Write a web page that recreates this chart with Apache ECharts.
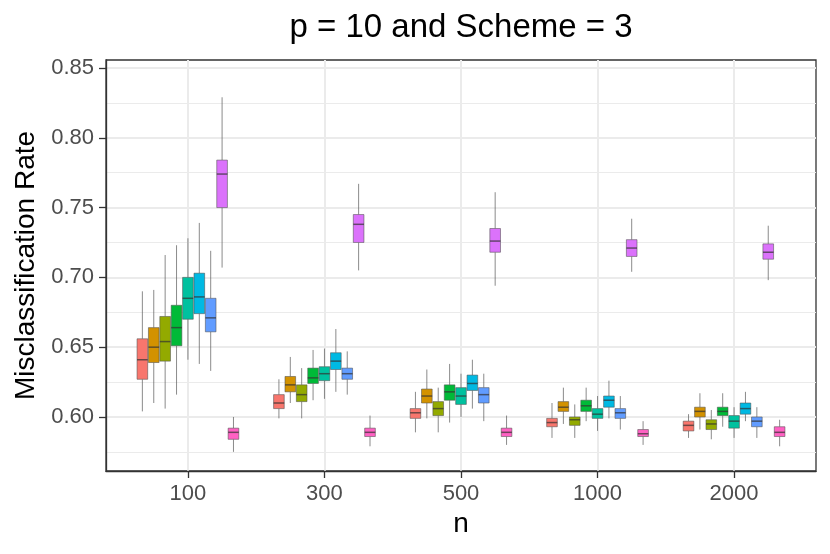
<!DOCTYPE html>
<html>
<head>
<meta charset="utf-8">
<script src="https://cdn.jsdelivr.net/npm/echarts@6.0.0/dist/echarts.min.js"></script>
<style>
  html, body { margin: 0; padding: 0; background: #fff; }
  #chart { width: 830px; height: 554px; }
</style>
</head>
<body>
<div id="chart"></div>
<script>
// sample sizes on the x axis
const nLabels = ['100', '300', '500', '1000', '2000'];

// one row per n: [lower whisker, Q1, median, Q3, upper whisker]
const group1 = [
    [0.604, 0.627, 0.641, 0.656, 0.690],
    [0.599, 0.606, 0.610, 0.616, 0.627],
    [0.589, 0.599, 0.603, 0.606, 0.618],
    [0.585, 0.593, 0.596, 0.599, 0.610],
    [0.585, 0.590, 0.594, 0.597, 0.602]
];
const group2 = [
    [0.610, 0.639, 0.650, 0.664, 0.691],
    [0.610, 0.618, 0.623, 0.629, 0.643],
    [0.599, 0.610, 0.615, 0.620, 0.634],
    [0.595, 0.604, 0.607, 0.611, 0.621],
    [0.591, 0.600, 0.604, 0.607, 0.617]
];
const group3 = [
    [0.606, 0.640, 0.654, 0.672, 0.716],
    [0.599, 0.611, 0.616, 0.623, 0.635],
    [0.589, 0.601, 0.606, 0.611, 0.621],
    [0.585, 0.594, 0.598, 0.600, 0.609],
    [0.584, 0.591, 0.595, 0.598, 0.605]
];
const group4 = [
    [0.616, 0.651, 0.664, 0.680, 0.723],
    [0.612, 0.624, 0.628, 0.635, 0.648],
    [0.596, 0.612, 0.618, 0.623, 0.638],
    [0.597, 0.604, 0.608, 0.612, 0.621],
    [0.593, 0.601, 0.604, 0.607, 0.617]
];
const group5 = [
    [0.641, 0.670, 0.685, 0.700, 0.728],
    [0.613, 0.626, 0.631, 0.636, 0.649],
    [0.600, 0.609, 0.615, 0.621, 0.631],
    [0.590, 0.599, 0.602, 0.606, 0.615],
    [0.585, 0.592, 0.597, 0.601, 0.607]
];
const group6 = [
    [0.638, 0.674, 0.686, 0.703, 0.739],
    [0.618, 0.634, 0.640, 0.646, 0.663],
    [0.606, 0.619, 0.624, 0.630, 0.641],
    [0.599, 0.607, 0.612, 0.615, 0.626],
    [0.597, 0.602, 0.606, 0.610, 0.618]
];
const group7 = [
    [0.633, 0.661, 0.671, 0.685, 0.719],
    [0.616, 0.627, 0.631, 0.635, 0.647],
    [0.597, 0.610, 0.616, 0.621, 0.631],
    [0.591, 0.599, 0.603, 0.606, 0.615],
    [0.585, 0.593, 0.597, 0.600, 0.607]
];
const group8 = [
    [0.707, 0.750, 0.774, 0.784, 0.829],
    [0.705, 0.725, 0.738, 0.745, 0.767],
    [0.694, 0.718, 0.726, 0.735, 0.761],
    [0.704, 0.715, 0.721, 0.727, 0.742],
    [0.698, 0.713, 0.718, 0.724, 0.737]
];
const group9 = [
    [0.575, 0.584, 0.589, 0.592, 0.600],
    [0.579, 0.586, 0.589, 0.592, 0.601],
    [0.580, 0.586, 0.589, 0.592, 0.601],
    [0.580, 0.586, 0.588, 0.591, 0.597],
    [0.579, 0.586, 0.589, 0.593, 0.598]
];

const groupColors = ['#F8766D', '#D39200', '#93AA00', '#00BA38', '#00C19F',
                     '#00B9E3', '#619CFF', '#DB72FB', '#FF61C3'];

const yMajor = [0.60, 0.65, 0.70, 0.75, 0.80, 0.85];
const yMinor = [0.575, 0.625, 0.675, 0.725, 0.775, 0.825];

const groups = [group1, group2, group3, group4, group5, group6, group7, group8, group9];

const FONT = '"Liberation Sans", Arial, sans-serif';
const DODGE = 0.0834;   // distance between neighbouring boxes, in x units
const BOX_W = 0.078;    // box width, in x units

function makeRender(offset) {
    return function (params, api) {
        const x = api.value(0) + offset;
        const low = api.coord([x, api.value(1)]);
        const q1 = api.coord([x, api.value(2)]);
        const med = api.coord([x, api.value(3)]);
        const q3 = api.coord([x, api.value(4)]);
        const high = api.coord([x, api.value(5)]);
        const half = api.size([BOX_W, 0])[0] / 2;
        const cx = med[0];
        const whisker = { stroke: 'rgba(90,90,90,0.7)', lineWidth: 1 };
        return {
            type: 'group',
            children: [
                { type: 'line', shape: { x1: cx, y1: high[1], x2: cx, y2: q3[1] }, style: whisker },
                { type: 'line', shape: { x1: cx, y1: q1[1], x2: cx, y2: low[1] }, style: whisker },
                {
                    type: 'rect',
                    shape: { x: cx - half, y: q3[1], width: half * 2, height: q1[1] - q3[1] },
                    style: { fill: api.visual('color'), stroke: 'rgba(80,80,80,0.55)', lineWidth: 1 }
                },
                {
                    type: 'line',
                    shape: { x1: cx - half, y1: med[1], x2: cx + half, y2: med[1] },
                    style: { stroke: 'rgba(50,50,50,0.7)', lineWidth: 1.5 }
                }
            ]
        };
    };
}

const series = groups.map(function (g, gi) {
    return {
        type: 'custom',
        name: 'Method ' + (gi + 1),
        renderItem: makeRender((gi - 4) * DODGE),
        itemStyle: { color: groupColors[gi] },
        encode: { x: 0, y: [1, 2, 3, 4, 5] },
        data: g.map(function (row, i) { return [i + 1].concat(row); })
    };
});

const chart = echarts.init(document.getElementById('chart'));
chart.setOption({
    animation: false,
    backgroundColor: '#fff',
    textStyle: { fontFamily: FONT },
    grid: {
        left: 106, right: 14, top: 60, bottom: 83,
        containLabel: false,
        show: true, borderColor: '#333', borderWidth: 1.3, backgroundColor: '#fff'
    },
    graphic: [{
        type: 'text',
        x: 461, y: 28,
        style: {
            text: 'p = 10 and Scheme = 3',
            fontSize: 33, fontFamily: FONT, fill: '#000',
            align: 'center', verticalAlign: 'middle'
        }
    }],
    xAxis: {
        type: 'value', min: 0.4, max: 5.6,
        name: 'n', nameLocation: 'middle', nameGap: 38,
        nameTextStyle: { fontSize: 28, color: '#000', fontFamily: FONT },
        axisLine: { show: true, lineStyle: { color: '#333', width: 1.3 } },
        axisTick: { show: true, length: 7, customValues: [1, 2, 3, 4, 5], lineStyle: { color: '#333', width: 1.3 } },
        axisLabel: {
            customValues: [1, 2, 3, 4, 5], margin: 12,
            fontSize: 22, color: '#4D4D4D', fontFamily: FONT,
            formatter: function (v) { return nLabels[Math.round(v) - 1]; }
        },
        splitLine: { show: true, lineStyle: { color: '#EBEBEB', width: 2 } }
    },
    yAxis: [{
        type: 'value', min: 0.5613, max: 0.8557,
        name: 'Misclassification Rate', nameLocation: 'middle', nameGap: 62, nameRotate: 90,
        nameTextStyle: { fontSize: 28, color: '#000', fontFamily: FONT },
        axisLine: { show: true, lineStyle: { color: '#333', width: 1.3 } },
        axisTick: { show: true, length: 7, customValues: yMajor, lineStyle: { color: '#333', width: 1.3 } },
        axisLabel: {
            customValues: yMajor, margin: 12,
            fontSize: 22, color: '#4D4D4D', fontFamily: FONT,
            formatter: function (v) { return v.toFixed(2); }
        },
        splitLine: { show: true, lineStyle: { color: '#EBEBEB', width: 2 } }
    }, {
        type: 'value', min: 0.5613, max: 0.8557, position: 'left',
        axisLine: { show: false },
        axisTick: { show: false, customValues: yMinor },
        axisLabel: { show: false },
        splitLine: { show: true, lineStyle: { color: '#EBEBEB', width: 1 } }
    }],
    series: series
});
</script>
</body>
</html>
